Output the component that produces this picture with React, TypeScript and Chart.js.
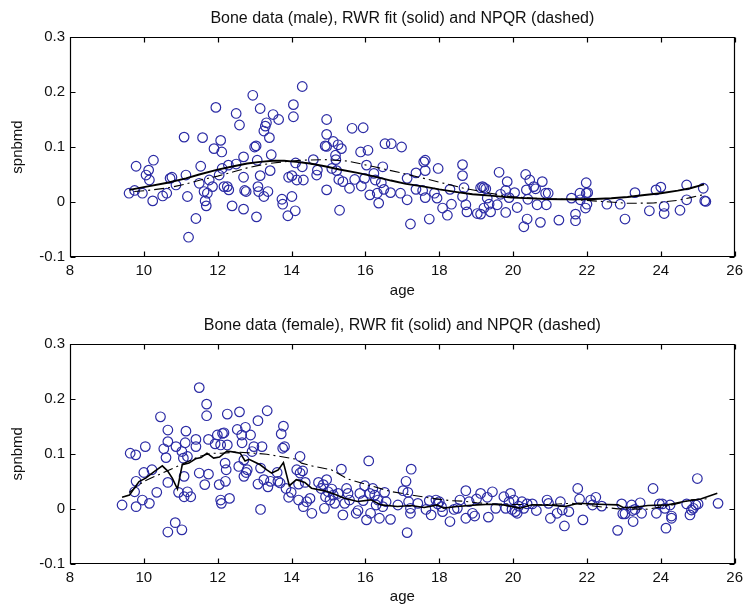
import React, { useEffect, useRef } from 'react';
import { Chart, registerables } from 'chart.js';

Chart.register(...registerables);

// ---------- data ----------
const xTicks = [8, 10, 12, 14, 16, 18, 20, 22, 24, 26];
const yTicks = [-0.1, 0, 0.1, 0.2, 0.3];

const maleTitle = 'Bone data (male), RWR fit (solid) and NPQR (dashed)';
const femaleTitle = 'Bone data (female), RWR fit (solid) and NPQR (dashed)';
const xLabel = 'age';
const yLabel = 'spnbmd';

const maleAge = [
  9.60, 9.75, 9.79, 9.96, 10.06, 10.13, 10.15, 10.26, 10.24, 10.51, 10.62, 10.71, 10.76, 10.87,
  11.09, 11.14, 11.18, 11.21, 11.41, 11.54, 11.59, 11.50, 11.63, 11.66, 11.72, 11.69, 11.77, 11.86,
  11.90, 11.95, 12.04, 12.08, 12.11, 12.12, 12.17, 12.26, 12.30, 12.29, 12.39, 12.50, 12.50, 12.59,
  12.70, 12.70, 12.70, 12.73, 12.77, 12.95, 13.00, 13.04, 13.05, 13.07, 13.09, 13.11, 13.15, 13.15,
  13.25, 13.29, 13.32, 13.25, 13.36, 13.40, 13.42, 13.45, 13.50, 13.65, 13.74, 13.76, 13.90, 13.92,
  14.01, 14.01, 14.05, 14.05, 14.10, 14.14, 14.11, 14.29, 14.29, 14.32, 14.59, 14.68, 14.70, 14.95,
  14.95, 14.91, 14.95, 14.95, 15.09, 15.13, 15.19, 15.20, 15.22, 15.26, 15.30, 15.28, 15.35, 15.39,
  15.57, 15.64, 15.71, 15.87, 15.89, 15.94, 15.98, 16.03, 16.07, 16.12,
  16.23, 16.27, 16.32, 16.36, 16.43, 16.47, 16.50, 16.53, 16.70, 16.68, 16.95, 16.98, 17.13, 17.13,
  17.22, 17.37, 17.37, 17.55, 17.58, 17.62, 17.62, 17.62, 17.73, 17.87, 17.94, 17.97, 18.09, 18.22,
  18.29, 18.33, 18.63, 18.63, 18.67, 18.63, 18.72, 18.75, 19.03, 19.12, 19.12, 19.17, 19.21, 19.26,
  19.21, 19.30, 19.35, 19.39, 19.62, 19.57, 19.66, 19.80, 19.84, 19.80, 19.89, 20.04, 20.11, 20.29,
  20.34, 20.38, 20.36, 20.40, 20.45, 20.56, 20.61, 20.65, 20.74, 20.79, 20.88, 20.90, 20.95, 21.24,
  21.58, 21.69, 21.69, 21.81, 21.82, 21.98, 21.98, 22.02, 22.00, 21.96, 22.54, 22.90, 23.03, 23.30,
  23.69, 23.87, 24.00, 24.09, 24.09, 24.52, 24.70, 24.70, 25.15, 25.19, 25.22,
];
const maleBmd = [
  0.016, 0.021, 0.065, 0.016, 0.049, 0.058, 0.040, 0.076, 0.002, 0.011, 0.016, 0.043, 0.045, 0.031,
  0.118, 0.049, 0.010, -0.064, -0.030, 0.065, 0.117, 0.034, 0.019, 0.002, 0.016, -0.007, 0.040, 0.028,
  0.097, 0.172, 0.049, 0.112, 0.091, 0.061, 0.028, 0.028, 0.022, 0.067, -0.007, 0.161, 0.069, 0.140,
  0.082, 0.045, -0.013, 0.021, 0.019, 0.194, 0.100, 0.102, -0.027, 0.076, 0.028, 0.019, 0.048, 0.170,
  0.129, 0.138, 0.144, 0.010, 0.019, 0.117, 0.057, 0.086, 0.159, 0.150, 0.005, -0.004, -0.025, 0.045,
  0.048, 0.010, 0.177, 0.155, -0.016, 0.040, 0.071, 0.210, 0.064, 0.040, 0.077, 0.049, 0.058, 0.150,
  0.123, 0.102, 0.101, 0.022, 0.061, 0.110, 0.085, 0.077, 0.057, 0.104, -0.015, 0.041, 0.097, 0.037,
  0.025, 0.134, 0.041, 0.091, 0.029, 0.135, 0.043, 0.067, 0.094, 0.013,
  0.052, 0.040, 0.016, -0.002, 0.035, 0.064, 0.023, 0.106, 0.106, 0.017, 0.016, 0.100, 0.043, 0.004,
  -0.040, 0.053, 0.023, 0.021, 0.073, 0.076, 0.057, 0.008, -0.031, 0.016, 0.007, 0.061, -0.011, -0.024,
  0.023, -0.004, 0.068, 0.048, 0.026, 0.010, -0.005, -0.018, -0.021, -0.022, 0.026, 0.028, 0.026, 0.024,
  -0.011, 0.007, -0.004, -0.018, 0.054, -0.005, 0.014, 0.021, 0.037, -0.019, 0.008, 0.017, -0.010, -0.045,
  0.050, -0.031, 0.022, 0.005, 0.040, 0.028, 0.024, -0.005, -0.037, 0.037, 0.016, -0.005, 0.016, -0.033,
  0.007, -0.022, -0.034, 0.016, 0.004, 0.035, 0.016, 0.017, -0.004, -0.011, -0.004, -0.004, -0.031, 0.017,
  -0.016, 0.022, 0.027, -0.008, -0.021, -0.015, 0.031, 0.004, 0.025, 0.002, 0.001,
];

const maleRwrAge = [
  9.61, 10.0, 10.64, 11.14, 11.5, 12.0, 12.43, 12.8, 13.15, 13.5, 13.8, 14.13, 14.5, 14.9, 15.3,
  15.79, 16.2, 16.69, 17.1, 17.59, 18.0, 18.48, 18.9, 19.38, 19.97, 20.5, 20.87, 21.3, 21.76, 22.2,
  22.66, 23.1, 23.56, 24.0, 24.46, 24.8, 25.17,
];
const maleRwrFit = [
  0.022, 0.027, 0.035, 0.043, 0.05, 0.059, 0.065, 0.07, 0.073, 0.075, 0.075, 0.073, 0.07, 0.065, 0.059,
  0.053, 0.047, 0.039, 0.033, 0.028, 0.023, 0.018, 0.014, 0.0115, 0.008, 0.0065, 0.0055, 0.005, 0.005, 0.0055,
  0.0067, 0.009, 0.0127, 0.016, 0.0206, 0.025, 0.032,
];
const maleNpqrAge = [
  9.74, 10.1, 10.64, 11.1, 11.53, 12.0, 12.43, 12.8, 13.15, 13.5, 13.78, 14.27, 14.9, 15.52, 16.24,
  16.96, 17.77, 18.66, 19.38, 19.92, 20.5, 21.3, 22.0, 22.48, 23.11, 23.8, 24.46, 24.8, 25.17,
];
const maleNpqrFit = [
  0.019, 0.021, 0.0255, 0.032, 0.04, 0.047, 0.055, 0.062, 0.067, 0.071, 0.073, 0.076, 0.077, 0.0745, 0.064,
  0.053, 0.04, 0.025, 0.016, 0.0097, 0.007, 0.005, 0.003, 0.0006, -0.0024, -0.0018, 0.003, 0.008, 0.0136,
];

const femaleAge = [
  9.41, 9.63, 9.75, 9.78, 9.79, 9.79, 9.96, 10.00, 10.04, 10.15, 10.22, 10.35, 10.45, 10.54, 10.60,
  10.65, 10.65, 10.65, 10.65, 10.85, 10.87, 10.94, 11.03, 11.03, 11.07, 11.09, 11.09, 11.12, 11.14, 11.18,
  11.18, 11.27, 11.41, 11.41, 11.50, 11.50, 11.65, 11.70, 11.70, 11.75, 11.75, 11.93, 11.99, 12.04, 12.08,
  12.08, 12.10, 12.13, 12.17, 12.20, 12.21, 12.23, 12.26, 12.26, 12.32, 12.53, 12.57, 12.59, 12.65, 12.66,
  12.71, 12.71, 12.75, 12.77, 12.80, 12.89, 12.93, 12.98, 13.09, 13.09, 13.16, 13.16, 13.20, 13.25, 13.34,
  13.36, 13.43, 13.61, 13.63, 13.69, 13.72, 13.76, 13.78, 13.81, 13.85, 13.92, 13.99, 14.14, 14.19, 14.19,
  14.23, 14.23, 14.30, 14.32, 14.37, 14.41, 14.50, 14.55, 14.73, 14.80, 14.86, 14.89, 14.92, 14.95, 14.99,
  15.04, 15.09, 15.13, 15.17, 15.26, 15.35, 15.39, 15.44, 15.49, 15.53, 15.57, 15.75, 15.80, 15.85, 15.94,
  15.98, 16.03, 16.09, 16.12, 16.14,
  16.20, 16.25, 16.29, 16.34, 16.38, 16.47, 16.52, 16.56, 16.68, 16.88, 17.02, 17.10, 17.13, 17.15, 17.17,
  17.22, 17.24, 17.22, 17.42, 17.64, 17.73, 17.78, 17.91, 17.96, 18.00, 18.06, 18.09, 18.29, 18.40, 18.49,
  18.56, 18.72, 18.72, 18.81, 18.90, 18.96, 19.01, 19.12, 19.30, 19.33, 19.44, 19.53, 19.75, 19.80, 19.89,
  19.93, 19.97, 20.02, 20.06, 20.11, 20.15, 20.24, 20.29, 20.38, 20.52, 20.63, 20.92, 20.96, 21.01, 21.19,
  21.28, 21.33, 21.39, 21.51, 21.75, 21.80, 21.89, 22.10, 22.15, 22.24, 22.40, 22.83, 22.94, 22.97, 23.03,
  23.21, 23.23, 23.25, 23.30, 23.44, 23.48, 23.79, 23.88, 23.96, 24.04, 24.11, 24.14, 24.25, 24.29, 24.29,
  24.70, 24.79, 24.83, 24.88, 24.95, 24.99, 25.01, 25.55,
];
const femaleBmd = [
  0.007, 0.101, 0.031, 0.098, 0.050, 0.004, 0.016, 0.066, 0.113, 0.010, 0.071, 0.030, 0.167, 0.109, 0.093,
  0.143, 0.122, 0.048, -0.042, -0.025, 0.113, 0.030, -0.038, 0.104, 0.092, 0.059, 0.022, 0.120, 0.141, 0.095,
  0.031, 0.022, 0.126, 0.113, 0.220, 0.065, 0.044, 0.190, 0.169, 0.126, 0.063, 0.118, 0.134, 0.044, 0.116,
  0.016, 0.010, 0.137, 0.138, 0.083, 0.050, 0.071, 0.172, 0.116, 0.019, 0.144, 0.077, 0.176, 0.134, 0.120,
  0.089, 0.059, 0.148, 0.066, 0.071, 0.134, 0.104, 0.113, 0.160, 0.045, -0.001, 0.074, 0.113, 0.053, 0.178,
  0.040, 0.050, 0.066, 0.050, 0.047, 0.136, 0.110, 0.150, 0.113, 0.037, 0.021, 0.030, 0.071, 0.045, 0.016,
  0.095, 0.065, 0.069, 0.004, 0.048, 0.013, 0.019, -0.008, 0.048, 0.037, 0.044, 0.001, 0.022, 0.053, 0.031,
  0.016, 0.036, 0.025, 0.010, 0.028, 0.072, -0.011, 0.010, 0.037, 0.028, 0.016, -0.008, -0.003, 0.028, 0.015,
  0.042, -0.020, 0.087, 0.028, -0.008,
  0.037, 0.025, 0.007, 0.016, -0.017, 0.004, 0.030, 0.013, -0.019, 0.007, 0.033, 0.050, -0.043, 0.030, 0.013,
  -0.008, 0.072, 0.001, 0.010, -0.001, 0.015, -0.011, 0.016, 0.009, 0.013, 0.004, -0.005, -0.023, -0.001, 0.001,
  0.016, 0.033, -0.017, 0.013, -0.008, -0.013, 0.018, 0.028, 0.021, -0.015, 0.031, 0.001, 0.022, 0.001, 0.013,
  0.028, -0.001, 0.016, -0.005, -0.008, 0.005, 0.013, 0.001, 0.009, 0.009, -0.003, 0.016, 0.010, -0.017, -0.008,
  0.013, -0.002, -0.031, -0.005, 0.037, 0.018, -0.020, 0.016, 0.007, 0.021, 0.005, -0.039, 0.009, -0.009, -0.009,
  0.007, -0.003, -0.023, -0.001, 0.011, -0.008, 0.037, -0.008, 0.009, 0.009, 0.001, -0.035, 0.007, -0.013, -0.017,
  0.009, -0.011, -0.002, 0.001, 0.007, 0.055, 0.009, 0.010,
];

const femaleRwrAge = [
  9.41, 9.61, 9.74, 9.87, 10.05, 10.28, 10.50, 10.64, 10.77, 10.91, 11.04, 11.22, 11.40, 11.55, 11.71,
  11.89, 12.05, 12.25, 12.45, 12.61, 12.74, 12.85, 12.97, 13.15, 13.33, 13.46, 13.64, 13.78, 13.94, 14.13,
  14.36, 14.54, 14.90, 15.17, 15.43, 15.79, 16.15, 16.42, 16.87, 17.23, 17.59, 17.95, 18.12, 18.48, 19.02,
  19.38, 19.74, 20.19, 20.51, 21.05, 21.41, 21.77, 22.30, 22.84, 22.98, 23.30, 23.65, 24.19, 24.63, 25.08,
  25.53,
];
const femaleRwrFit = [
  0.021, 0.025, 0.0375, 0.0496, 0.0557, 0.0677, 0.078, 0.069, 0.0557, 0.036, 0.08, 0.083, 0.091, 0.093, 0.101,
  0.092, 0.094, 0.105, 0.103, 0.101, 0.087, 0.09, 0.086, 0.08, 0.0708, 0.065, 0.0708, 0.084, 0.042, 0.053,
  0.048, 0.0375, 0.0327, 0.0266, 0.0194, 0.0133, 0.0163, 0.0073, 0.0042, 0.006, 0.0024, 0.0073, 0.0013, 0.0042, 0.0073,
  0.0085, 0.0073, 0.0013, 0.0073, 0.0066, 0.0042, 0.0103, 0.0085, 0.0073, 0.0024, 0.003, 0.006, 0.0073, 0.0133, 0.018,
  0.0285,
];
const femaleNpqrAge = [
  9.6, 10.0, 10.5, 11.0, 11.5, 11.83, 12.1, 12.5, 13.0, 13.33, 13.7, 14.13, 14.27, 14.55, 15.08, 15.52,
  16.06, 16.69, 17.23, 17.77, 18.3, 18.66, 19.02, 19.5, 20.0, 20.87, 21.59, 22.3, 22.84, 23.2, 23.65, 24.28,
  24.82, 25.35,
];
const femaleNpqrFit = [
  0.03, 0.05, 0.065, 0.08, 0.095, 0.101, 0.101, 0.103, 0.101, 0.099, 0.095, 0.09, 0.083, 0.078, 0.0708, 0.0544,
  0.0436, 0.0314, 0.0254, 0.0194, 0.015, 0.0139, 0.011, 0.009, 0.008, 0.0073, 0.0103, 0.0042, 0.0, 0.0, -0.0006, 0.0066,
  0.0163, 0.0188,
];

// ---------- drawing ----------
const FONT = '"Liberation Sans", Arial, Helvetica, sans-serif';
const TEXT = '#111111';
const MARKER = 'rgb(44, 44, 165)';

const zip = (xs: number[], ys: number[]) => xs.map((x, i) => ({ x, y: ys[i] }));

const framePlugin = {
  id: 'matlabFrame',
  afterDatasetsDraw(chart: any) {
    const { ctx, chartArea: a, scales } = chart;
    const sx = scales.x;
    const sy = scales.y;
    const L = Math.round(a.left) + 0.5;
    const R = Math.round(a.right) - 0.5;
    const T = Math.round(a.top) + 0.5;
    const B = Math.round(a.bottom) - 0.5;
    const tl = 5;
    ctx.save();
    ctx.strokeStyle = '#000';
    ctx.lineWidth = 1.2;
    ctx.beginPath();
    ctx.rect(L, T, R - L, B - T);
    sx.ticks.forEach((t: any) => {
      const p = Math.round(sx.getPixelForValue(t.value)) + 0.5;
      ctx.moveTo(p, B);
      ctx.lineTo(p, B - tl);
      ctx.moveTo(p, T);
      ctx.lineTo(p, T + tl);
    });
    sy.ticks.forEach((t: any) => {
      const p = Math.round(sy.getPixelForValue(t.value)) + 0.5;
      ctx.moveTo(L, p);
      ctx.lineTo(L + tl, p);
      ctx.moveTo(R, p);
      ctx.lineTo(R - tl, p);
    });
    ctx.stroke();
    ctx.restore();
  },
};

type PanelProps = {
  title: string;
  ax: number[];
  ay: number[];
  fx: number[];
  fy: number[];
  qx: number[];
  qy: number[];
  height: number;
  titleTop: number;
  titleBottom: number;
  xAxisHeight: number;
  xTitlePad: number;
  solidWidth: number;
};

function Panel(p: PanelProps) {
  const ref = useRef<HTMLCanvasElement>(null);
  useEffect(() => {
    if (!ref.current) return;
    const chart = new Chart(ref.current, {
      type: 'scatter',
      data: {
        datasets: [
          {
            type: 'line',
            label: 'RWR',
            data: zip(p.fx, p.fy),
            borderColor: '#000',
            borderWidth: p.solidWidth,
            pointRadius: 0,
            fill: false,
            tension: 0,
            order: 1,
          } as any,
          {
            type: 'line',
            label: 'NPQR',
            data: zip(p.qx, p.qy),
            borderColor: '#000',
            borderWidth: 1.1,
            borderDash: [10, 4, 2, 4],
            pointRadius: 0,
            fill: false,
            tension: 0,
            order: 2,
          } as any,
          {
            label: 'data',
            data: zip(p.ax, p.ay),
            pointStyle: 'circle',
            pointRadius: 4.8,
            pointBorderWidth: 1.2,
            borderColor: MARKER,
            backgroundColor: 'rgba(0,0,0,0)',
            pointBackgroundColor: 'rgba(0,0,0,0)',
            pointBorderColor: MARKER,
            showLine: false,
            order: 3,
          } as any,
        ],
      },
      options: {
        responsive: false,
        animation: false,
        devicePixelRatio: 1,
        layout: { padding: { left: 0, right: 9, top: 0, bottom: 0 } },
        plugins: {
          legend: { display: false },
          tooltip: { enabled: false },
          title: {
            display: true,
            fullSize: false,
            text: p.title,
            color: TEXT,
            font: { family: FONT, size: 16, weight: 'normal', lineHeight: 1.2 },
            padding: { top: p.titleTop, bottom: p.titleBottom },
          },
        },
        scales: {
          x: {
            type: 'linear',
            position: 'bottom',
            min: xTicks[0],
            max: xTicks[xTicks.length - 1],
            afterBuildTicks: (s: any) => {
              s.ticks = xTicks.map((v) => ({ value: v }));
            },
            ticks: {
              color: TEXT,
              font: { family: FONT, size: 15, lineHeight: 1.2 },
              padding: 5,
              maxRotation: 0,
              autoSkip: false,
            },
            grid: { display: false, drawTicks: false },
            border: { display: false },
            title: {
              display: true,
              text: xLabel,
              color: TEXT,
              font: { family: FONT, size: 15, lineHeight: 1.2 },
              padding: { top: 0, bottom: p.xTitlePad },
            },
            afterFit: (s: any) => {
              s.height = p.xAxisHeight;
            },
          },
          y: {
            type: 'linear',
            min: yTicks[0],
            max: yTicks[yTicks.length - 1],
            afterBuildTicks: (s: any) => {
              s.ticks = yTicks.map((v) => ({ value: v }));
            },
            ticks: {
              color: TEXT,
              font: { family: FONT, size: 15, lineHeight: 1.2 },
              padding: 5,
              autoSkip: false,
              callback: (v: any) => String(Math.round(Number(v) * 10) / 10),
            },
            grid: { display: false, drawTicks: false },
            border: { display: false },
            title: {
              display: true,
              text: yLabel,
              color: TEXT,
              font: { family: FONT, size: 15, lineHeight: 1.2 },
              padding: { top: 9, bottom: 0 },
            },
            afterFit: (s: any) => {
              s.width = 70;
            },
          },
        },
      },
      plugins: [framePlugin],
    });
    return () => chart.destroy();
  }, []);
  return (
    <canvas
      ref={ref}
      width={748}
      height={p.height}
      style={{ display: 'block', width: 748, height: p.height }}
    />
  );
}

export default function App() {
  return (
    <div style={{ position: 'absolute', left: 0, top: 0, width: 748, height: 607, background: '#fff' }}>
      <Panel
        title={maleTitle}
        ax={maleAge}
        ay={maleBmd}
        fx={maleRwrAge}
        fy={maleRwrFit}
        qx={maleNpqrAge}
        qy={maleNpqrFit}
        height={303}
        titleTop={9.4}
        titleBottom={8.4}
        xAxisHeight={46}
        xTitlePad={3}
        solidWidth={1.9}
      />
      <Panel
        title={femaleTitle}
        ax={femaleAge}
        ay={femaleBmd}
        fx={femaleRwrAge}
        fy={femaleRwrFit}
        qx={femaleNpqrAge}
        qy={femaleNpqrFit}
        height={304}
        titleTop={13.4}
        titleBottom={7.9}
        xAxisHeight={43}
        xTitlePad={1}
        solidWidth={1.6}
      />
    </div>
  );
}
